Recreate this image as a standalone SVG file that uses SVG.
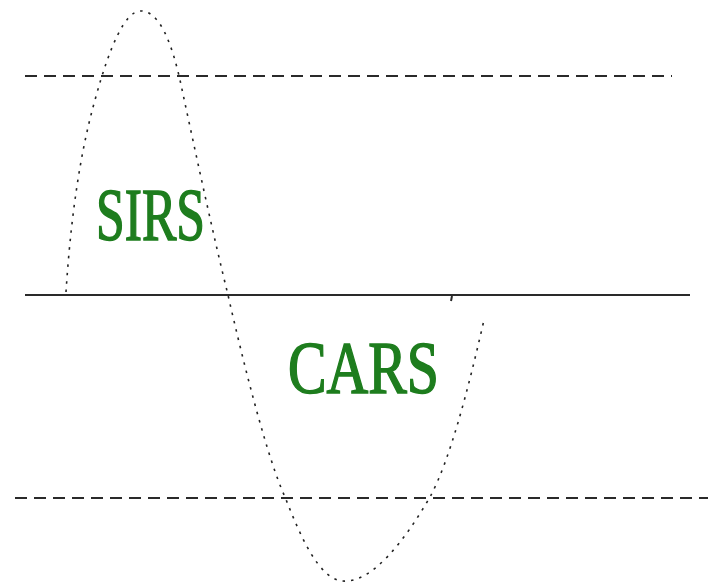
<svg xmlns="http://www.w3.org/2000/svg" width="708" height="586" viewBox="0 0 708 586">
<style>
.dash{stroke:#2a2a2a;stroke-width:2;stroke-dasharray:12,7;fill:none}
.solid{stroke:#2a2a2a;stroke-width:2;fill:none}
.curve{stroke:#222;stroke-width:1.6;stroke-dasharray:2.5,6;fill:none}
.lbl{font-family:"Liberation Serif","Times New Roman",serif;font-size:73px;fill:#1e7d1e;stroke:#1e7d1e;stroke-width:1.6}
</style>
<rect width="708" height="586" fill="#fff"/>
<g id="connectors">
<line class="dash" x1="25" y1="76" x2="672" y2="76"/>
<line class="solid" x1="25" y1="295" x2="690" y2="295"/>
<line class="dash" x1="15" y1="498" x2="708" y2="498"/>
<path class="curve" d="M66,292 C70,230 78,160 95,100 C110,45 125,12 140,11 C160,10 172,45 180,80 C195,150 212,230 228,295 C245,370 268,460 285,497 C300,535 318,578 342,581 C372,584 405,540 430,497 C450,460 468,390 484,320"/>
<line class="solid" x1="452" y1="296" x2="451" y2="301" stroke-width="1.5"/>
</g>
<g id="sirs"><text class="lbl" x="96" y="240" textLength="109" lengthAdjust="spacingAndGlyphs">SIRS</text></g>
<g id="cars"><text class="lbl" x="288" y="393" textLength="151" lengthAdjust="spacingAndGlyphs">CARS</text></g>
</svg>
